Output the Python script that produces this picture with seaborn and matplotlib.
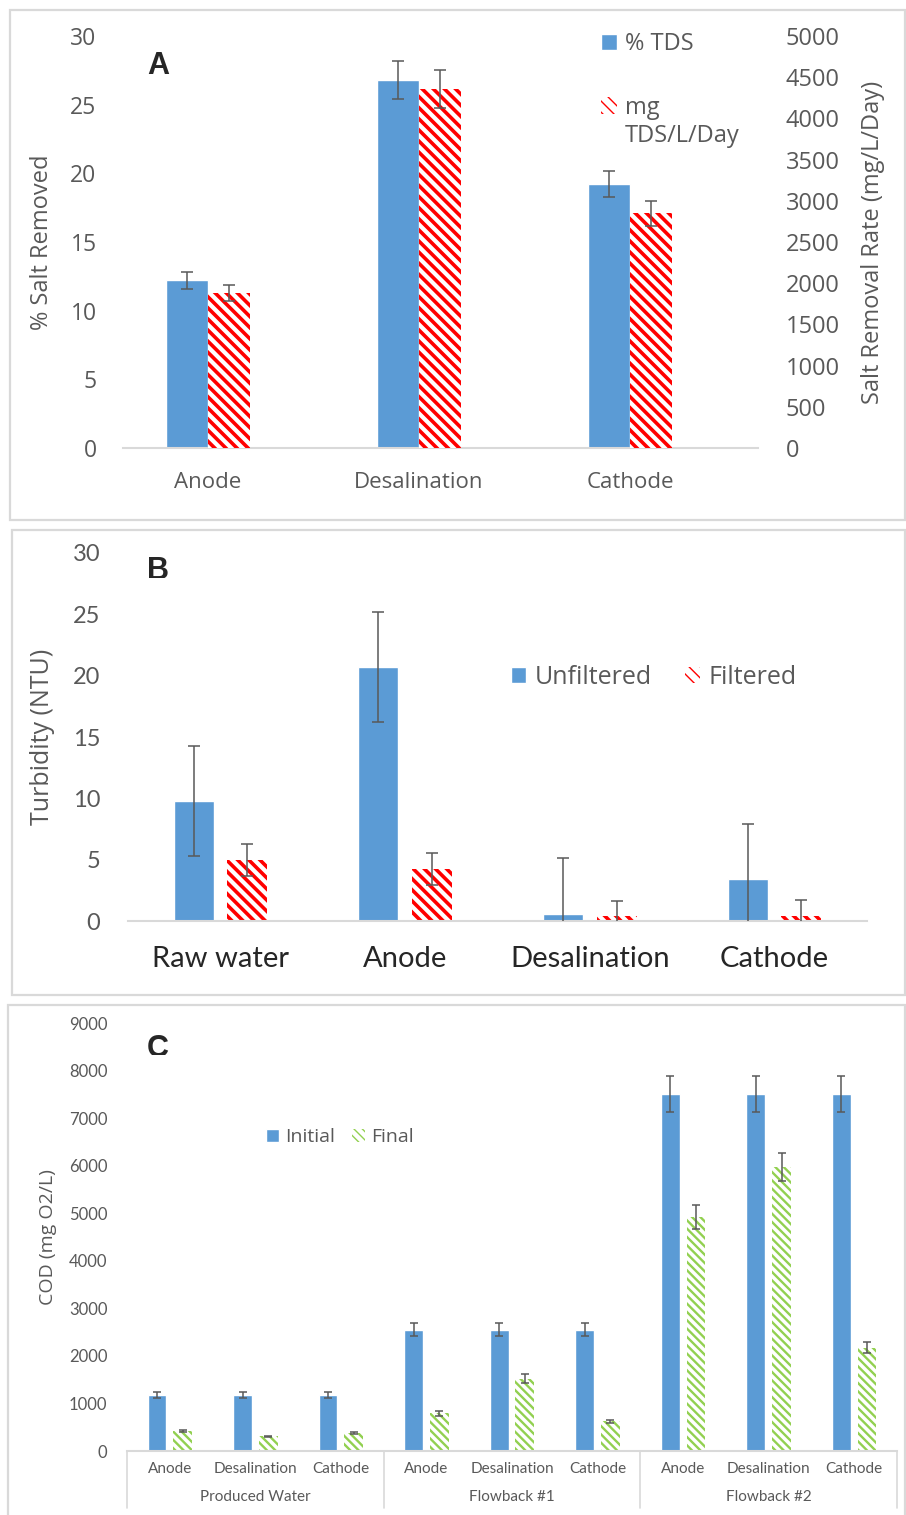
import pandas as pd
import matplotlib
matplotlib.use("Agg")
import matplotlib.pyplot as plt
import seaborn as sns
from matplotlib.patches import Patch, Rectangle
from matplotlib.transforms import Bbox, TransformedBbox

# ---- data ----
a_stages = ["Anode", "Desalination", "Cathode"]
a_pct = [12.2, 26.8, 19.2]
a_pct_err = [0.62, 1.38, 0.95]
a_rate = [1880, 4360, 2850]
a_rate_err = [97, 230, 150]

b_sites = ["Raw water", "Anode", "Desalination", "Cathode"]
b_unfiltered = [9.8, 20.7, 0.6, 3.4]
b_unfiltered_err = [4.5, 4.45, 4.5, 4.5]
b_filtered = [5.0, 4.25, 0.4, 0.4]
b_filtered_err = [1.3, 1.3, 1.2, 1.3]

c_sources = ["Produced Water", "Flowback #1", "Flowback #2"]
c_stages = ["Anode", "Desalination", "Cathode"]
c_initial = [1180, 1180, 1180, 2550, 2550, 2550, 7500, 7500, 7500]
c_initial_err = [60, 60, 60, 135, 135, 135, 380, 380, 380]
c_final = [427, 308, 378, 790, 1524, 622, 4916, 5972, 2175]
c_final_err = [25, 15, 15, 45, 85, 40, 255, 295, 120]

BLUE = "#5B9BD5"
RED = "#FF0000"
GREEN = "#92D050"
GREY = "#595959"
LINE = "#D9D9D9"
RED_HATCH = "\\" * 3
GREEN_HATCH = "\\" * 4

W, H = 906, 1515
sns.set_style("white")
plt.rcParams["font.family"] = ["Open Sans", "DejaVu Sans"]
plt.rcParams["axes.edgecolor"] = LINE

fig = plt.figure(figsize=(W / 100, H / 100), dpi=100)


def px_axes(left, right, top, bottom):
    return fig.add_axes([left / W, 1 - bottom / H, (right - left) / W, (bottom - top) / H])


def frame(x0, y0, x1, y1):
    fig.add_artist(Rectangle((x0 / W, 1 - y1 / H), (x1 - x0) / W, (y1 - y0) / H,
                             transform=fig.transFigure, fill=False, ec=LINE, lw=1.6))


def letter(txt, x, y, clip_y=None):
    t = fig.text(x / W, 1 - y / H, txt, fontsize=22, fontweight="bold",
                 family="Liberation Sans", va="top", ha="left")
    if clip_y is not None:
        box = Bbox.from_extents(0, 1 - clip_y / H, 1, 1)
        t.set_clip_box(TransformedBbox(box, fig.transFigure))
        t.set_clip_on(True)


def bars(ax):
    return [c for c in ax.containers if len(c) > 0]


def hatch_bars(container, color, hatch, lw):
    for p in container:
        p.set_facecolor("white")
        p.set_edgecolor(color)
        p.set_linewidth(0)
        p.set_hatch(hatch)
        if hasattr(p, "set_hatch_linewidth"):
            p.set_hatch_linewidth(lw)


def hatch_handle(color, hatch, label, lw):
    h = Patch(facecolor="white", edgecolor=color, hatch=hatch, lw=0, label=label)
    if hasattr(h, "set_hatch_linewidth"):
        h.set_hatch_linewidth(lw)
    return h


def err(ax, container, vals, errs, cap):
    xs = [p.get_x() + p.get_width() / 2 for p in container]
    ax.errorbar(xs, vals, yerr=errs, fmt="none", ecolor=GREY, elinewidth=1.1,
                capsize=cap, capthick=1.1, zorder=5)


def clean(ax):
    for s in ["top", "left", "right"]:
        ax.spines[s].set_visible(False)
    ax.spines["bottom"].set_color(LINE)
    ax.spines["bottom"].set_linewidth(1.5)
    ax.tick_params(length=0, colors=GREY)
    ax.set_xlabel("")


# ---------------- panel A ----------------
frame(10, 10, 905, 520)
axA = px_axes(123, 758, 36, 448)
axA2 = axA.twinx()
dfA1 = pd.DataFrame({"stage": a_stages, "series": "% TDS", "value": a_pct})
dfA2 = pd.DataFrame({"stage": a_stages, "series": "mg TDS/L/Day", "value": a_rate})
hue_a = ["% TDS", "mg TDS/L/Day"]
for d, ax in ((dfA1, axA), (dfA2, axA2)):
    sns.barplot(data=d, x="stage", y="value", hue="series", hue_order=hue_a, order=a_stages,
                palette={hue_a[0]: BLUE, hue_a[1]: RED}, width=0.4, gap=0, dodge=True,
                saturation=1, errorbar=None, legend=False, ax=ax)
err(axA, bars(axA)[0], a_pct, a_pct_err, 4)
hatch_bars(bars(axA2)[0], RED, RED_HATCH, 2.6)
err(axA2, bars(axA2)[0], a_rate, a_rate_err, 4)
for ax in (axA, axA2):
    clean(ax)
    ax.set_xlim(-0.403, 2.607)
axA2.spines["bottom"].set_visible(False)
axA.set_ylim(0, 30)
axA.set_yticks(range(0, 31, 5))
axA2.set_ylim(0, 5000)
axA2.set_yticks(range(0, 5001, 500))
axA.tick_params(axis="y", labelsize=16.5, pad=19)
axA2.tick_params(axis="y", labelsize=17, pad=20)
axA.tick_params(axis="x", labelsize=16, pad=17)
axA.set_ylabel("% Salt Removed", fontsize=17, color=GREY, va="center")
axA.yaxis.set_label_coords(-0.128, 0.5)
axA2.set_ylabel("Salt Removal Rate (mg/L/Day)", fontsize=17, color=GREY, va="center",
                rotation=90)
axA2.yaxis.set_label_coords(1.181, 0.5)
axA2.legend(handles=[Patch(facecolor=BLUE, label="% TDS"),
                     hatch_handle(RED, RED_HATCH, "mg", 2.6)],
            loc="upper left", bbox_to_anchor=(601 / W, 1 - 32 / H),
            bbox_transform=fig.transFigure, frameon=False, fontsize=17,
            handlelength=0.68, handleheight=0.68, handletextpad=0.34,
            labelspacing=1.68, borderpad=0, borderaxespad=0, labelcolor=GREY)
fig.text(625 / W, 1 - 136 / H, "TDS/L/Day", ha="left", va="center", fontsize=17, color=GREY)
letter("A", 147, 51)

# ---------------- panel B ----------------
frame(12, 530, 905, 995)
axB = px_axes(128, 867, 553, 921)
dfB = pd.DataFrame({
    "site": b_sites * 2,
    "series": ["Unfiltered"] * len(b_sites) + ["Filtered"] * len(b_sites),
    "value": b_unfiltered + b_filtered,
})
sns.barplot(data=dfB, x="site", y="value", hue="series", order=b_sites,
            hue_order=["Unfiltered", "Filtered"], palette={"Unfiltered": BLUE, "Filtered": RED},
            width=0.58, gap=0.255, saturation=1, errorbar=None, legend=False, ax=axB)
unf_b, fil_b = bars(axB)
hatch_bars(fil_b, RED, RED_HATCH, 2.6)
err(axB, unf_b, b_unfiltered, b_unfiltered_err, 4)
err(axB, fil_b, b_filtered, b_filtered_err, 4)
clean(axB)
axB.set_xlim(-0.5, 3.5)
axB.set_ylim(0, 30)
axB.set_yticks(range(0, 31, 5))
axB.tick_params(axis="y", labelsize=17, pad=20)
axB.tick_params(axis="x", labelsize=21, pad=18, colors="#262626")
for t in axB.get_yticklabels() + axB.get_xticklabels():
    t.set_family(["Lato", "DejaVu Sans"])
axB.set_ylabel("Turbidity (NTU)", fontsize=18, color=GREY, va="center")
axB.yaxis.set_label_coords(-0.116, 0.5)
axB.legend(handles=[Patch(facecolor=BLUE, label="Unfiltered"),
                    hatch_handle(RED, RED_HATCH, "Filtered", 2.6)],
           loc="center left", bbox_to_anchor=(511 / W, 1 - 677 / H),
           bbox_transform=fig.transFigure, frameon=False, fontsize=18, ncol=2,
           handlelength=0.6, handleheight=0.6, handletextpad=0.36, columnspacing=1.3,
           borderpad=0, borderaxespad=0, labelcolor=GREY)
letter("B", 147, 556, clip_y=578)

# ---------------- panel C ----------------
frame(8, 1005, 905, 1520)
axC = px_axes(127, 897, 1023, 1451)
keys = [f"{s}|{st}" for s in c_sources for st in c_stages]
dfC = pd.DataFrame({
    "key": keys * 2,
    "series": ["Initial"] * len(keys) + ["Final"] * len(keys),
    "value": c_initial + c_final,
})
sns.barplot(data=dfC, x="key", y="value", hue="series", order=keys,
            hue_order=["Initial", "Final"], palette={"Initial": BLUE, "Final": GREEN},
            width=0.6, gap=0.27, saturation=1, errorbar=None, legend=False, ax=axC)
ini_c, fin_c = bars(axC)
hatch_bars(fin_c, GREEN, GREEN_HATCH, 1.7)
err(axC, ini_c, c_initial, c_initial_err, 3)
err(axC, fin_c, c_final, c_final_err, 3)
clean(axC)
axC.set_xlim(-0.5, len(keys) - 0.5)
axC.set_ylim(0, 9000)
axC.set_yticks(range(0, 9001, 1000))
axC.set_xticks(range(len(keys)))
axC.set_xticklabels([k.split("|")[1] for k in keys])
axC.tick_params(axis="y", labelsize=12, pad=14)
axC.tick_params(axis="x", labelsize=11, pad=8)
for t in axC.get_yticklabels() + axC.get_xticklabels():
    t.set_family(["Lato", "DejaVu Sans"])
# group separators and group labels under the axis
n = len(c_stages)
tr = axC.get_xaxis_transform()
for g in range(len(c_sources) + 1):
    axC.plot([g * n - 0.5] * 2, [0, -57 / 428], transform=tr, color=LINE, lw=1.2, clip_on=False)
for g, src in enumerate(c_sources):
    axC.text(g * n + (n - 1) / 2, -46 / 428, src, transform=tr, ha="center", va="center",
             fontsize=11, color=GREY, family=["Lato", "DejaVu Sans"])
axC.set_ylabel("COD (mg O2/L)", fontsize=14, color=GREY, va="center")
axC.yaxis.set_label_coords(-0.103, 0.5)
axC.legend(handles=[Patch(facecolor=BLUE, label="Initial"),
                    hatch_handle(GREEN, GREEN_HATCH, "Final", 1.7)],
           loc="center left", bbox_to_anchor=(266 / W, 1 - 1137 / H),
           bbox_transform=fig.transFigure, frameon=False, fontsize=14, ncol=2,
           handlelength=0.67, handleheight=0.67, handletextpad=0.3, columnspacing=0.9,
           borderpad=0, borderaxespad=0, labelcolor=GREY)
letter("C", 147, 1034, clip_y=1055)

fig.savefig("out.png", dpi=100)
